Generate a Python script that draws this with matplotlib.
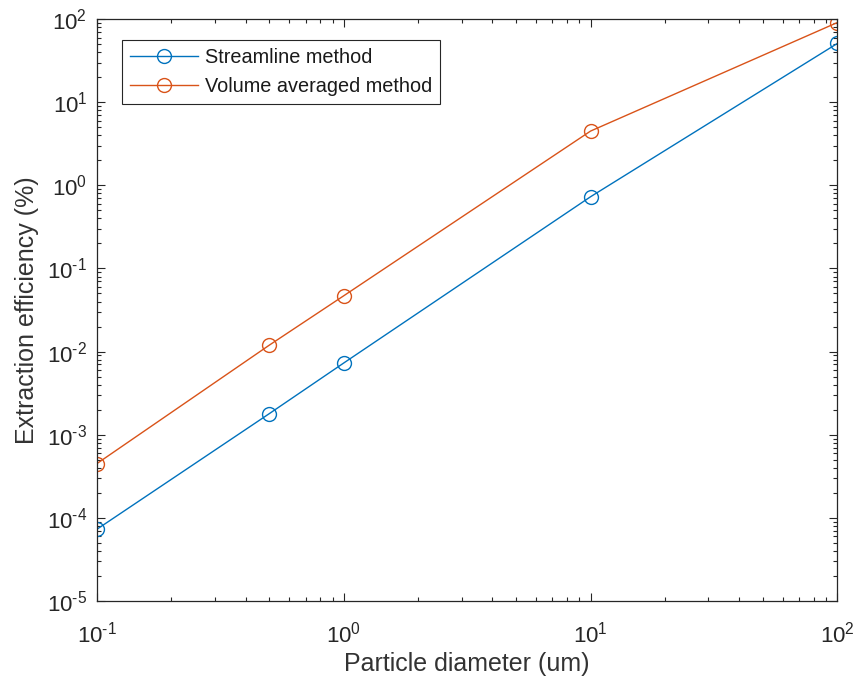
import numpy as np
import matplotlib.pyplot as plt
from matplotlib.ticker import LogLocator, NullFormatter, FuncFormatter

plt.rcParams['font.family'] = ['Liberation Sans', 'DejaVu Sans']
plt.rcParams['mathtext.fontset'] = 'custom'
plt.rcParams['mathtext.rm'] = 'Liberation Sans'
plt.rcParams['mathtext.it'] = 'Liberation Sans:italic'
plt.rcParams['mathtext.bf'] = 'Liberation Sans:bold'

# Data
diameter = np.array([0.1, 0.5, 1, 10, 100])                      # um
streamline = np.array([7.3e-5, 1.8e-3, 7.3e-3, 0.73, 51])       # %
volume_avg = np.array([4.5e-4, 1.2e-2, 4.7e-2, 4.5, 91])         # %

blue = '#0072BD'
orange = '#D95319'
grey = '#262626'


def pow10(v, pos):
    e = int(round(np.log10(v)))
    s = str(e).replace('-', '\u2010')
    return '$\\mathregular{10^{%s}}$' % s


fig = plt.figure(figsize=(8.56, 6.82), dpi=100)
ax = fig.add_axes([0.1133, 0.1188, 0.865, 0.8532])

ax.plot(diameter, streamline, '-o', color=blue, lw=1.0, ms=10,
        mfc='none', mew=1.0, label='Streamline method')
ax.plot(diameter, volume_avg, '-o', color=orange, lw=1.0, ms=10,
        mfc='none', mew=1.0, label='Volume averaged method')

ax.set_xscale('log')
ax.set_yscale('log')
ax.set_xlim(0.1, 100)
ax.set_ylim(1e-5, 1e2)

ax.xaxis.set_major_locator(LogLocator(base=10, numticks=10))
ax.yaxis.set_major_locator(LogLocator(base=10, numticks=10))
ax.xaxis.set_minor_locator(LogLocator(base=10, subs=np.arange(2, 10), numticks=20))
ax.yaxis.set_minor_locator(LogLocator(base=10, subs=np.arange(2, 10), numticks=20))
ax.xaxis.set_major_formatter(FuncFormatter(pow10))
ax.yaxis.set_major_formatter(FuncFormatter(pow10))
ax.xaxis.set_minor_formatter(NullFormatter())
ax.yaxis.set_minor_formatter(NullFormatter())

ax.tick_params(which='both', direction='in', top=True, right=True,
               colors=grey, labelsize=16, width=0.8)
ax.tick_params(which='major', length=6)
ax.tick_params(which='minor', length=3)
ax.tick_params(axis='x', pad=15)
ax.tick_params(axis='y', pad=7)
for s in ax.spines.values():
    s.set_color(grey)
    s.set_linewidth(0.9)

ax.set_xlabel('Particle diameter (um)', fontsize=18, color='#333333', labelpad=3)
ax.set_ylabel('Extraction efficiency (%)', fontsize=18, color='#333333', labelpad=6)

leg = ax.legend(loc='upper left', bbox_to_anchor=(0.034, 0.964), fontsize=14.3,
                fancybox=False, edgecolor=grey, framealpha=1,
                borderaxespad=0, handlelength=3.4, borderpad=0.4,
                labelspacing=0.5, handletextpad=0.35)
leg.get_frame().set_linewidth(0.8)
for t in leg.get_texts():
    t.set_color('#1a1a1a')

fig.savefig('out.png', dpi=100)
